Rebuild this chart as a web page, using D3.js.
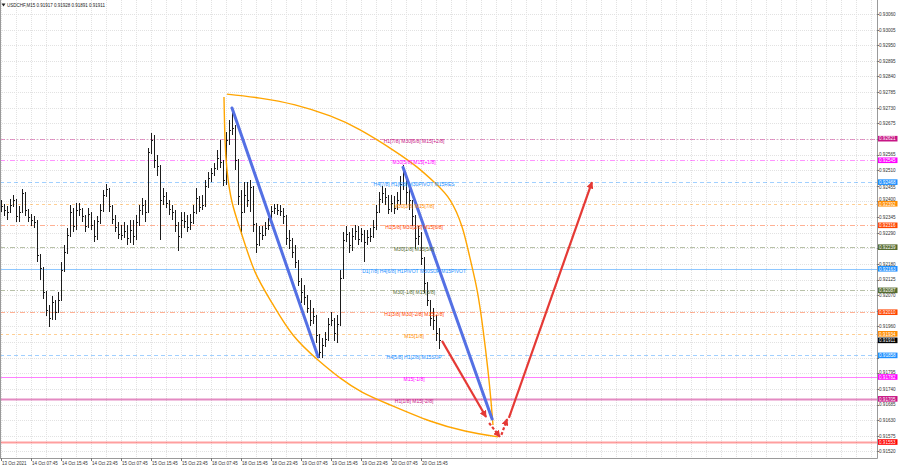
<!DOCTYPE html>
<html><head><meta charset="utf-8">
<script src="https://cdn.jsdelivr.net/npm/d3@7"></script>
<style>html,body{margin:0;padding:0;background:#fff;overflow:hidden}svg{display:block}</style>
</head><body><svg id="c" width="900" height="468"></svg>
<script>
// ---------------- DATA ----------------
const symbol = "USDCHF,M15";
const lastOHLC = ["0.91917", "0.91928", "0.91891", "0.91911"];

const timeLabels = ["13 Oct 2021","14 Oct 07:45","14 Oct 15:45","14 Oct 23:45","15 Oct 07:45","15 Oct 15:45","15 Oct 23:45","18 Oct 07:45","18 Oct 15:45","18 Oct 23:45","19 Oct 07:45","19 Oct 15:45","19 Oct 23:45","20 Oct 07:45","20 Oct 15:45"];
const timeLabelBars = [0,10,20,30,40,50,60,70,80,90,100,110,120,130,140];

const priceTicks = [0.93060,0.93005,0.92950,0.92895,0.92840,0.92785,0.92730,0.92675,0.92620,0.92565,0.92510,0.92455,0.92400,0.92345,0.92290,0.92235,0.92180,0.92125,0.92070,0.92015,0.91960,0.91905,0.91850,0.91795,0.91740,0.91685,0.91630,0.91575,0.91520];

const barHigh = [
0.92405,0.92391,0.92384,0.92409,0.92423,0.92408,0.92384,0.92444,0.92433,0.92373,
0.92356,0.92349,0.92335,0.92215,0.92170,0.92085,0.92036,0.92067,0.92053,0.92081,
0.92187,0.92247,0.92307,0.92388,0.92377,0.92395,0.92395,0.92377,0.92353,0.92377,
0.92363,0.92335,0.92349,0.92391,0.92441,0.92462,0.92448,0.92388,0.92353,0.92328,
0.92317,0.92328,0.92317,0.92335,0.92335,0.92353,0.92388,0.92412,0.92405,0.92588,
0.92641,0.92634,0.92564,0.92528,0.92448,0.92434,0.92405,0.92388,0.92370,0.92328,
0.92363,0.92363,0.92353,0.92356,0.92388,0.92448,0.92419,0.92423,0.92476,0.92504,
0.92518,0.92536,0.92581,0.92617,0.92546,0.92645,0.92687,0.92729,0.92669,0.92550,
0.92441,0.92469,0.92469,0.92476,0.92455,0.92325,0.92314,0.92314,0.92328,0.92342,
0.92384,0.92391,0.92391,0.92388,0.92377,0.92353,0.92300,0.92272,0.92247,0.92194,
0.92131,0.92106,0.92071,0.92053,0.92025,0.92000,0.91934,0.91920,0.91941,0.91990,
0.92011,0.91990,0.92000,0.92159,0.92293,0.92314,0.92293,0.92307,0.92317,0.92314,
0.92307,0.92300,0.92300,0.92307,0.92335,0.92388,0.92434,0.92455,0.92448,0.92423,
0.92423,0.92419,0.92434,0.92490,0.92529,0.92490,0.92455,0.92405,0.92352,0.92314,
0.92293,0.92205,0.92117,0.92053,0.92025,0.92000,0.91955];

const barLow = [
0.92363,0.92349,0.92338,0.92360,0.92384,0.92331,0.92328,0.92360,0.92352,0.92328,
0.92317,0.92310,0.92187,0.92124,0.92060,0.91997,0.91958,0.91986,0.91983,0.92008,
0.92050,0.92155,0.92218,0.92278,0.92293,0.92300,0.92349,0.92328,0.92293,0.92310,
0.92300,0.92258,0.92265,0.92321,0.92363,0.92416,0.92363,0.92321,0.92293,0.92268,
0.92265,0.92272,0.92250,0.92254,0.92250,0.92265,0.92317,0.92353,0.92328,0.92360,
0.92570,0.92518,0.92493,0.92265,0.92388,0.92377,0.92353,0.92335,0.92293,0.92229,
0.92272,0.92307,0.92293,0.92300,0.92321,0.92356,0.92363,0.92370,0.92384,0.92448,
0.92469,0.92490,0.92511,0.92518,0.92455,0.92458,0.92599,0.92634,0.92511,0.92388,
0.92282,0.92360,0.92384,0.92363,0.92293,0.92222,0.92246,0.92265,0.92279,0.92300,
0.92314,0.92356,0.92353,0.92349,0.92321,0.92247,0.92236,0.92201,0.92166,0.92103,
0.92046,0.92036,0.92008,0.91962,0.91969,0.91905,0.91849,0.91849,0.91891,0.91912,
0.91962,0.91912,0.91905,0.91965,0.92128,0.92258,0.92222,0.92229,0.92265,0.92250,
0.92258,0.92187,0.92250,0.92258,0.92272,0.92300,0.92363,0.92398,0.92391,0.92356,
0.92363,0.92356,0.92370,0.92391,0.92441,0.92391,0.92370,0.92314,0.92236,0.92250,
0.92177,0.92081,0.92032,0.91962,0.91948,0.91912,0.91884];

const barClose = [
0.92384,0.92370,0.92363,0.92388,0.92405,0.92349,0.92363,0.92430,0.92370,0.92345,
0.92335,0.92328,0.92212,0.92166,0.92081,0.92018,0.91990,0.92046,0.92011,0.92053,
0.92159,0.92222,0.92282,0.92363,0.92314,0.92370,0.92374,0.92349,0.92314,0.92356,
0.92317,0.92279,0.92331,0.92370,0.92423,0.92444,0.92384,0.92338,0.92310,0.92286,
0.92282,0.92296,0.92272,0.92300,0.92279,0.92328,0.92370,0.92388,0.92363,0.92574,
0.92617,0.92546,0.92525,0.92405,0.92419,0.92395,0.92374,0.92363,0.92317,0.92279,
0.92335,0.92331,0.92310,0.92328,0.92363,0.92412,0.92381,0.92388,0.92455,0.92483,
0.92500,0.92518,0.92553,0.92539,0.92476,0.92617,0.92652,0.92659,0.92546,0.92419,
0.92363,0.92423,0.92405,0.92451,0.92321,0.92250,0.92289,0.92282,0.92307,0.92317,
0.92367,0.92377,0.92370,0.92367,0.92349,0.92272,0.92265,0.92222,0.92187,0.92120,
0.92081,0.92064,0.92025,0.91983,0.91997,0.91930,0.91870,0.91895,0.91916,0.91969,
0.91983,0.91937,0.91969,0.92131,0.92265,0.92286,0.92247,0.92279,0.92296,0.92268,
0.92286,0.92258,0.92275,0.92279,0.92310,0.92363,0.92409,0.92430,0.92416,0.92374,
0.92395,0.92377,0.92405,0.92462,0.92504,0.92434,0.92405,0.92349,0.92272,0.92279,
0.92201,0.92113,0.92053,0.91990,0.91983,0.91937,0.91911];

// Murrey-math levels
const levelPrices = [0.92621,0.92545,0.92468,0.92392,0.92316,0.92239,0.92163,0.92087,0.92010,0.91934,0.91858,0.91782,0.91705];
const levelLabels = ["H1[7/8] M30[6/8] M15[+2/8]","M30[5/8] M15[+1/8]","H4[7/8] H1[6/8] M30PIVOT M15RES","M30[3/8] M15[7/8]","H1[5/8] M30[2/8] M15[6/8]","M30[1/8] M15[5/8]","D1[7/8] H4[6/8] H1PIVOT M30SUP M15PIVOT","M30[-1/8] M15[3/8]","H1[3/8] M30[-2/8] M15[2/8]","M15[1/8]","H4[5/8] H1[2/8] M15SUP","M15[-1/8]","H1[1/8] M15[-2/8]"];
const levelColors = ["#c71585","#ff00ff","#1e90ff","#ff8c00","#ff4500","#556b2f","#1e90ff","#556b2f","#ff4500","#ff8c00","#1e90ff","#ff00ff","#c71585"];
const lastPrice = 0.91911;
const targetPrice = 0.91553;

// drawn objects (bar index, price)
const arcOuterBars   = [75.3,86.3,98,109.7,119.7,130.7,138.7,144.7,149.7,153.7,156.3,158.7,160.7,162.3,163.3,164];
const arcOuterPrices = [0.92778,0.92764,0.92740,0.92701,0.92652,0.92581,0.92521,0.92465,0.92405,0.92310,0.92202,0.92088,0.91948,0.91807,0.91701,0.91613];
const arcInnerBars   = [74.33,74.67,75.33,77,80.33,84.67,90.33,97.33,105.67,113,120.33,129.67,143,154.67,165.67];
const arcInnerPrices = [0.92768,0.92617,0.92511,0.92398,0.92282,0.92152,0.92043,0.91930,0.91842,0.91779,0.91729,0.91684,0.91627,0.91592,0.91571];
const blueLineBars   = [[77,105.7],[134,163.7]];
const blueLinePrices = [[0.92729,0.91853],[0.92520,0.91634]];
const redSolidBars   = [[147,161.7],[169.3,197]];
const redSolidPrices = [[0.91909,0.91641],[0.91638,0.92468]];
const redDashBars    = [[162.7,166.3],[166.8,168.7]];
const redDashPrices  = [[0.91620,0.91571],[0.91578,0.91634]];

// ---------------- CHART ----------------
const W = 900, H = 468, plotR = 877, plotB = 458;
const svg = d3.select("#c");
const x = d3.scaleLinear().domain([0, 292]).range([1, 877]);
const y = d3.scaleLinear().domain([0.91520, 0.93060]).range([451.4, 14]);
const FONT = "'Liberation Sans', Arial, sans-serif";

svg.append("rect").attr("width", W).attr("height", H).attr("fill", "#fff");
const defs = svg.append("defs");
defs.append("clipPath").attr("id", "clip")
  .append("rect").attr("x", 0).attr("y", 0).attr("width", plotR).attr("height", plotB);

const plot = svg.append("g").attr("clip-path", "url(#clip)");

// grid
const gridBars = d3.range(0, 293, 5);
plot.selectAll(".vg").data(gridBars).join("line")
  .attr("x1", d => Math.round(x(d)) + 0.5).attr("x2", d => Math.round(x(d)) + 0.5)
  .attr("y1", 0).attr("y2", plotB)
  .attr("stroke", "#e2e2e2").attr("stroke-width", 1).attr("stroke-dasharray", "1,1");
plot.selectAll(".hg").data(priceTicks).join("line")
  .attr("x1", 0).attr("x2", plotR)
  .attr("y1", d => Math.round(y(d)) + 0.5).attr("y2", d => Math.round(y(d)) + 0.5)
  .attr("stroke", "#e2e2e2").attr("stroke-width", 1).attr("stroke-dasharray", "1,1");

// level lines
const levelDash = ["5,2,1,2","5,2,1,2","4,3","3,3","5,2,1,2","5,2,1,2",null,"5,2,1,2","5,2,1,2","3,3","4,3",null,null];
const levelWidth = [1,1,1,1,1,1,1,1,1,1,1,1,2];
plot.selectAll(".lvl").data(levelPrices).join("line")
  .attr("x1", 0).attr("x2", plotR)
  .attr("y1", d => Math.round(y(d)) + 0.5).attr("y2", d => Math.round(y(d)) + 0.5)
  .attr("stroke", (d, i) => levelColors[i])
  .attr("stroke-opacity", (d, i) => levelDash[i] ? 0.42 : 0.5)
  .attr("stroke-width", (d, i) => levelWidth[i])
  .attr("stroke-dasharray", (d, i) => levelDash[i]);
plot.append("line")
  .attr("x1", 0).attr("x2", plotR)
  .attr("y1", Math.round(y(targetPrice)) + 0.5).attr("y2", Math.round(y(targetPrice)) + 0.5)
  .attr("stroke", "#ff0000").attr("stroke-opacity", 0.38).attr("stroke-width", 2);

// bars (OHLC)
const bars = plot.append("g").attr("stroke", "#1c1c1c").attr("stroke-width", 1).attr("shape-rendering", "crispEdges");
barClose.forEach((c, i) => {
  const xi = Math.round(x(i)) + 0.5;
  const o = i > 0 ? Math.max(barLow[i], Math.min(barHigh[i], barClose[i - 1])) : c;
  bars.append("line").attr("x1", xi).attr("x2", xi).attr("y1", y(barHigh[i])).attr("y2", y(barLow[i]) + 0.5);
  bars.append("line").attr("x1", xi - 1).attr("x2", xi).attr("y1", Math.round(y(o)) + 0.5).attr("y2", Math.round(y(o)) + 0.5);
  bars.append("line").attr("x1", xi).attr("x2", xi + 1).attr("y1", Math.round(y(c)) + 0.5).attr("y2", Math.round(y(c)) + 0.5);
});

// orange arcs
const curveLine = d3.line().x(d => x(d[0])).y(d => y(d[1])).curve(d3.curveNatural);
plot.append("path").datum(arcOuterBars.map((b, i) => [b, arcOuterPrices[i]]))
  .attr("d", curveLine).attr("fill", "none").attr("stroke", "#ffa500").attr("stroke-width", 1.4);
plot.append("path").datum(arcInnerBars.map((b, i) => [b, arcInnerPrices[i]]))
  .attr("d", curveLine).attr("fill", "none").attr("stroke", "#ffa500").attr("stroke-width", 1.4);

// blue lines
blueLineBars.forEach((b, k) => {
  plot.append("line")
    .attr("x1", x(b[0])).attr("y1", y(blueLinePrices[k][0]))
    .attr("x2", x(b[1])).attr("y2", y(blueLinePrices[k][1]))
    .attr("stroke", "#5470e4").attr("stroke-width", 3).attr("stroke-linecap", "round");
});

// arrow marker
defs.append("marker").attr("id", "ah").attr("viewBox", "0 0 10 10")
  .attr("refX", 9).attr("refY", 5).attr("markerWidth", 3.2).attr("markerHeight", 3.2)
  .attr("markerUnits", "strokeWidth").attr("orient", "auto")
  .append("path").attr("d", "M0,0 L10,5 L0,10 z").attr("fill", "#e53935");

redSolidBars.forEach((b, k) => {
  plot.append("line")
    .attr("x1", x(b[0])).attr("y1", y(redSolidPrices[k][0]))
    .attr("x2", x(b[1])).attr("y2", y(redSolidPrices[k][1]))
    .attr("stroke", "#e53935").attr("stroke-width", 2.2).attr("marker-end", "url(#ah)");
});
redDashBars.forEach((b, k) => {
  plot.append("line")
    .attr("x1", x(b[0])).attr("y1", y(redDashPrices[k][0]))
    .attr("x2", x(b[1])).attr("y2", y(redDashPrices[k][1]))
    .attr("stroke", "#e53935").attr("stroke-width", 2.2).attr("stroke-dasharray", "3,2").attr("marker-end", "url(#ah)");
});

// level labels
plot.selectAll(".lt").data(levelPrices).join("text")
  .attr("x", x(137.7)).attr("y", d => y(d) + 2)
  .attr("text-anchor", "middle").attr("dominant-baseline", "central")
  .attr("font-family", FONT).attr("font-size", 5)
  .attr("fill", (d, i) => levelColors[i])
  .text((d, i) => levelLabels[i]);

// frame
svg.append("line").attr("x1", plotR + 0.5).attr("x2", plotR + 0.5).attr("y1", 0).attr("y2", plotB + 0.5).attr("stroke", "#9a9a9a");
svg.append("line").attr("x1", 0).attr("x2", plotR + 0.5).attr("y1", plotB + 0.5).attr("y2", plotB + 0.5).attr("stroke", "#9a9a9a");
svg.append("line").attr("x1", 0.5).attr("x2", 0.5).attr("y1", 0).attr("y2", plotB).attr("stroke", "#9a9a9a");

// right axis
const boxes = levelPrices.map((p, i) => ({p, c: levelColors[i]}))
  .concat([{p: lastPrice, c: "#000"}, {p: targetPrice, c: "#ff0000"}]);
const BOXH = 5.6, GAP = 4.9;
const tickPos = priceTicks.map(p => {
  let yy = y(p), hide = false;
  boxes.forEach(b => {
    const dy = yy - y(b.p);
    if (Math.abs(dy) < 2 || (dy > 0 && dy < 2.6)) hide = true;
    else if (Math.abs(dy) < GAP) yy = y(b.p) + Math.sign(dy) * GAP;
  });
  return {p, yy, hide};
}).filter(d => !d.hide);

const ra = svg.append("g");
ra.selectAll(".tk").data(priceTicks).join("line")
  .attr("x1", plotR).attr("x2", plotR + 2)
  .attr("y1", d => Math.round(y(d)) + 0.5).attr("y2", d => Math.round(y(d)) + 0.5)
  .attr("stroke", "#777");
ra.selectAll(".tl").data(tickPos).join("text")
  .attr("x", 879).attr("y", d => d.yy + 0.4)
  .attr("dominant-baseline", "central").attr("font-family", FONT).attr("font-size", 4.6)
  .attr("fill", "#333").text(d => d.p.toFixed(5));

boxes.forEach(b => {
  ra.append("rect").attr("x", 878).attr("y", y(b.p) - BOXH / 2).attr("width", 19.5).attr("height", BOXH).attr("fill", b.c);
  ra.append("text").attr("x", 879).attr("y", y(b.p) + 0.3)
    .attr("dominant-baseline", "central").attr("font-family", FONT).attr("font-size", 4.6)
    .attr("fill", "#fff").text(b.p.toFixed(5));
});

// bottom axis
const ba = svg.append("g");
ba.selectAll(".btk").data(timeLabelBars).join("line")
  .attr("x1", d => Math.round(x(d)) + 0.5).attr("x2", d => Math.round(x(d)) + 0.5)
  .attr("y1", plotB).attr("y2", plotB + 3).attr("stroke", "#777");
ba.selectAll(".btl").data(timeLabelBars).join("text")
  .attr("x", d => x(d) + 1).attr("y", 463.5)
  .attr("dominant-baseline", "central").attr("font-family", FONT).attr("font-size", 4.5)
  .attr("fill", "#333").text((d, i) => timeLabels[i]);

// title
svg.append("path").attr("d", "M1.5,3.5 L5.5,3.5 L3.5,6.5 Z").attr("fill", "#222");
svg.append("text").attr("x", 7).attr("y", 5.5).attr("dominant-baseline", "central")
  .attr("font-family", FONT).attr("font-size", 4.5).attr("fill", "#222")
  .text(symbol + "  " + lastOHLC.join(" "));
</script>
</body></html>
